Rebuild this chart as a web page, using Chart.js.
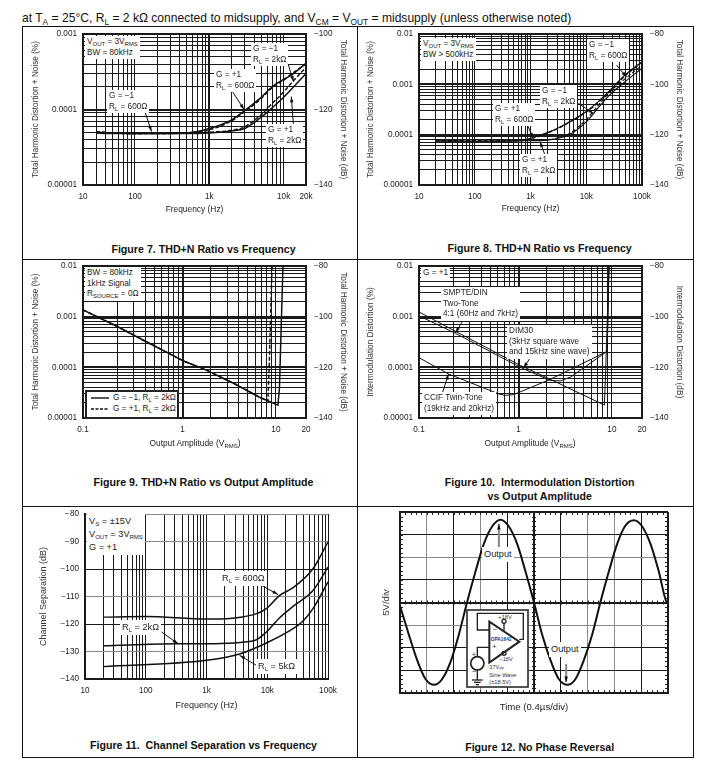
<!DOCTYPE html>
<html>
<head>
<meta charset="utf-8">
<title>OPA1641 typical characteristics</title>
<script src="https://cdn.jsdelivr.net/npm/chart.js@4/dist/chart.umd.min.js"></script>
<style>
    html, body { margin: 0; padding: 0; background: #fff; }
    body { position: relative; width: 714px; height: 770px; overflow: hidden; font-family: "Liberation Sans", Arial, sans-serif; color: #111; }
    canvas { position: absolute; }
    .rule { position: absolute; background: #111; }
    .head { position: absolute; left: 22px; top: 11px; font-size: 12.08px; line-height: 14px; white-space: nowrap; }
    .head sub { font-size: 8.4px; line-height: 0; }
    .cap { position: absolute; font-weight: bold; font-size: 10.65px; line-height: 13.6px; text-align: center; transform: translateX(-50%); white-space: nowrap; }
    .note { position: absolute; background: #fff; font-size: 8.2px; line-height: 10.5px; padding: 1px 2px; white-space: nowrap; color: #222; }
    .note sub { font-size: 6px; line-height: 0; vertical-align: -1.5px; }
    .note.big { font-size: 9.2px; line-height: 13px; }
    .axis-note { position: absolute; font-size: 8.4px; line-height: 10px; white-space: nowrap; color: #222; transform: translateX(-50%); }
    .axis-note sub { font-size: 6px; line-height: 0; vertical-align: -1.5px; }
    .legend { position: absolute; left: 85px; top: 390px; width: 90px; height: 25px; background: #fff; border: 2px solid #222; font-size: 8.2px; color: #222; }
    .legend div { position: absolute; left: 2px; white-space: nowrap; line-height: 10px; }
    .legend sub { font-size: 6px; line-height: 0; vertical-align: -1.5px; }
    .legend svg { vertical-align: middle; margin-right: 3px; }
    #inset { position: absolute; left: 466px; top: 609px; }
</style>
</head>
<body>

<div class="rule" style="left:22px;top:26px;width:672px;height:1px"></div>
<div class="rule" style="left:22px;top:259px;width:672px;height:1px"></div>
<div class="rule" style="left:22px;top:506px;width:672px;height:1px"></div>
<div class="rule" style="left:22px;top:757px;width:672px;height:1px"></div>
<div class="rule" style="left:22px;top:26px;width:1px;height:732px"></div>
<div class="rule" style="left:357px;top:26px;width:1px;height:732px"></div>
<div class="rule" style="left:693px;top:26px;width:1px;height:732px"></div>

<div class="head">at T<sub>A</sub> = 25°C, R<sub>L</sub> = 2 kΩ connected to midsupply, and V<sub>CM</sub> = V<sub>OUT</sub> = midsupply (unless otherwise noted)</div>

<canvas id="fig7" style="left:24px;top:27px" width="332" height="188"></canvas>
<canvas id="fig8" style="left:359px;top:27px" width="333" height="187"></canvas>
<canvas id="fig9" style="left:24px;top:261px" width="332" height="188"></canvas>
<canvas id="fig10" style="left:359px;top:261px" width="333" height="188"></canvas>
<canvas id="fig11" style="left:24px;top:508px" width="332" height="203"></canvas>
<canvas id="fig12" style="left:359px;top:508px" width="333" height="205"></canvas>

<div class="axis-note" style="left:195px;top:438px">Output Amplitude (V<sub>RMS</sub>)</div>
<div class="axis-note" style="left:530px;top:438px">Output Amplitude (V<sub>RMS</sub>)</div>

<div class="legend">
    <div style="top:1px"><svg width="21" height="4"><line x1="2" y1="2" x2="20" y2="2" stroke="#111" stroke-width="1.4"/></svg>G = −1, R<sub>L</sub> = 2kΩ</div>
    <div style="top:12px"><svg width="21" height="4"><line x1="2" y1="2" x2="20" y2="2" stroke="#111" stroke-width="1.4" stroke-dasharray="3 1.5"/></svg>G = +1, R<sub>L</sub> = 2kΩ</div>
</div>

<svg id="inset" width="63" height="79" viewBox="18 27 189 237">
    <rect x="21" y="30" width="183" height="231" fill="#fff" stroke="#333" stroke-width="5"/>
    <g fill="none" stroke="#222" stroke-width="4">
        <polyline points="178,118 190,118 190,40 52,40 52,90 88,90"/>
        <polyline points="88,142 52,142 52,170"/>
        <polygon points="88,65 88,188 178,125" stroke-width="6" fill="#fff"/>
        <circle cx="52" cy="190" r="20" stroke-width="5"/>
        <polyline points="52,210 52,240"/>
        <line x1="36" y1="240" x2="68" y2="240"/>
        <line x1="42" y1="247" x2="62" y2="247"/>
        <line x1="47" y1="254" x2="57" y2="254"/>
        <line x1="132" y1="92" x2="132" y2="70"/>
        <circle cx="132" cy="64" r="6"/>
        <circle cx="132" cy="160" r="6"/>
    </g>
    <g font-family="Liberation Sans, Arial, sans-serif" font-size="17" fill="#333">
        <text x="115" y="56">+18V</text>
        <text x="118" y="184">−18V</text>
        <text x="98" y="96" font-size="22">−</text>
        <text x="97" y="148" font-size="22">+</text>
        <text x="36" y="170" font-size="20">+</text>
        <text x="36" y="222" font-size="22">−</text>
        <text x="88" y="207">37V<tspan font-size="11" dy="3">PP</tspan></text>
        <text x="88" y="230">Sine Wave</text>
        <text x="88" y="252">(±18.5V)</text>
        <text x="92" y="122" font-size="14.5" font-weight="bold" fill="#1d3c78">OPA1641</text>
    </g>
</svg>

<script>
// --- DATA ---
// Figure 7: THD+N vs frequency, BW = 80kHz
const fig7Freq = [30, 50, 100, 200, 500, 1000, 2000, 3000, 5000, 7000, 10000, 13000, 20000];
const fig7Plus600 = [5.0e-5, 4.9e-5, 4.8e-5, 4.8e-5, 4.9e-5, 5.6e-5, 7.3e-5, 9.7e-5, 1.45e-4, 2.0e-4, 2.5e-4, 2.9e-4, 4.1e-4];
const fig7Minus600 = [5.1e-5, 4.9e-5, 4.8e-5, 4.9e-5, 4.9e-5, 5.4e-5, 7.1e-5, 9.4e-5, 1.4e-4, 1.95e-4, 2.45e-4, 3.0e-4, 4.0e-4];
const fig7Plus2k = [4.9e-5, 4.8e-5, 4.8e-5, 4.8e-5, 4.8e-5, 4.9e-5, 5.2e-5, 5.6e-5, 7.9e-5, 1.05e-4, 1.45e-4, 1.9e-4, 3.0e-4];
const fig7Minus2k = [5.0e-5, 4.9e-5, 4.8e-5, 4.8e-5, 4.9e-5, 5.0e-5, 5.3e-5, 5.9e-5, 8.6e-5, 1.2e-4, 1.7e-4, 2.3e-4, 3.6e-4];

// Figure 8: THD+N vs frequency, BW > 500kHz
const fig8Freq = [20, 100, 500, 1000, 2000, 3000, 5000, 10000, 17000, 27000, 46000, 100000];
const fig8Plus600 = [7.5e-5, 7.4e-5, 7.5e-5, 8.5e-5, 1.1e-4, 1.33e-4, 1.8e-4, 2.9e-4, 4.7e-4, 7.7e-4, 1.42e-3, 2.82e-3];
const fig8Minus600 = [7.6e-5, 7.5e-5, 7.6e-5, 8.3e-5, 1.07e-4, 1.3e-4, 1.75e-4, 2.8e-4, 4.5e-4, 7.4e-4, 1.35e-3, 2.75e-3];
const fig8Plus2k = [7.5e-5, 7.4e-5, 7.5e-5, 7.6e-5, 7.8e-5, 8.4e-5, 1.0e-4, 1.8e-4, 3.6e-4, 6.3e-4, 1.05e-3, 2.1e-3];
const fig8Minus2k = [7.6e-5, 7.5e-5, 7.6e-5, 7.7e-5, 7.9e-5, 8.6e-5, 1.05e-4, 2.0e-4, 4.0e-4, 7.2e-4, 1.2e-3, 2.4e-3];

// Figure 9: THD+N vs output amplitude
const fig9SolidAmp = [0.086, 0.2, 0.41, 1.03, 1.8, 3.56, 6.6, 10.5, 10.9, 11.9];
const fig9SolidThd = [1.36e-3, 6.4e-4, 3.2e-4, 1.33e-4, 8.8e-5, 4.8e-5, 2.6e-5, 1.8e-5, 3.75e-5, 1e-2];
const fig9DashAmp = [0.086, 0.2, 0.41, 1.03, 1.8, 3.56, 6.6, 8.2, 8.5, 9.1];
const fig9DashThd = [1.36e-3, 6.4e-4, 3.2e-4, 1.33e-4, 8.8e-5, 4.8e-5, 2.6e-5, 2.2e-5, 1.26e-4, 1e-2];

// Figure 10: intermodulation distortion vs output amplitude
const fig10SmpteAmp = [0.086, 0.211, 1.05, 2.19, 8.3, 8.6, 9.3];
const fig10SmpteImd = [1.24e-3, 5.15e-4, 1.09e-4, 5.8e-5, 1.8e-5, 1.0e-4, 1e-2];
const fig10DimAmp = [0.086, 0.211, 1.05, 2.19, 2.8, 3.6, 8.9, 9.3];
const fig10DimImd = [1.04e-3, 4.7e-4, 9.97e-5, 5.5e-5, 5.4e-5, 6.4e-5, 2.07e-4, 1e-2];
const fig10CcifAmp = [0.086, 0.178, 0.61, 0.72, 0.89, 2.19, 8.9, 9.3];
const fig10CcifImd = [1.55e-4, 7.4e-5, 3.0e-5, 2.8e-5, 2.9e-5, 5.8e-5, 2.07e-4, 1e-2];

// Figure 11: channel separation vs frequency
const fig11Freq600 = [20, 100, 1000, 6000, 9700, 16000, 26600, 56600, 100000];
const fig11Db600 = [-117.5, -117.3, -118.2, -116.6, -114.4, -109.6, -106.8, -99.9, -90.2];
const fig11Freq2k = [20, 321, 1000, 6000, 9700, 16000, 26600, 56600, 100000];
const fig11Db2k = [-127.9, -127.2, -127.2, -126.1, -122.9, -117.7, -113.6, -107.8, -99.3];
const fig11Freq5k = [20, 1000, 3500, 9700, 26600, 38800, 56600, 100000];
const fig11Db5k = [-135.5, -133.2, -130.9, -126.9, -121.7, -118.9, -114.4, -104.7];

// Figure 12: output waveform
const fig12Time = [0, 0.13, 0.26, 0.38, 0.51, 0.63, 0.76, 0.88, 1.0, 1.13, 1.25, 1.38, 1.5, 1.62, 1.75, 1.87, 2.0, 2.12, 2.25, 2.37, 2.5, 2.62, 2.74, 2.87, 2.99, 3.12, 3.24, 3.36, 3.49, 3.61, 3.74, 3.86, 3.98, 4.0];
const fig12Volts = [-0.7, -7, -12.9, -16.9, -18.2, -16.9, -12.9, -7, 0, 7, 12.9, 16.9, 18.3, 16.9, 12.9, 7, 0, -7, -12.9, -16.9, -18.2, -16.9, -12.9, -7, 0, 7, 12.9, 16.9, 18.2, 16.9, 12.9, 7, 0, -0.2];

// Grid lines and tick labels
const freqGrid20k = [20, 30, 40, 50, 60, 70, 80, 90, 100, 200, 300, 400, 500, 600, 700, 800, 900, 1000, 2000, 3000, 4000, 5000, 6000, 7000, 8000, 9000, 10000, 20000];
const freqGrid100k = [10, 20, 30, 40, 50, 60, 70, 80, 90, 100, 200, 300, 400, 500, 600, 700, 800, 900, 1000, 2000, 3000, 4000, 5000, 6000, 7000, 8000, 9000, 10000, 20000, 30000, 40000, 50000, 60000, 70000, 80000, 90000, 100000];
const ampGrid = [0.086, 0.2, 0.3, 0.4, 0.5, 0.6, 0.7, 0.8, 0.9, 1, 2, 3, 4, 5, 6, 7, 8, 9, 10, 21];
const pctGrid = [1e-5, 2e-5, 3e-5, 4e-5, 5e-5, 6e-5, 7e-5, 8e-5, 9e-5, 1e-4, 2e-4, 3e-4, 4e-4, 5e-4, 6e-4, 7e-4, 8e-4, 9e-4, 1e-3, 2e-3, 3e-3, 4e-3, 5e-3, 6e-3, 7e-3, 8e-3, 9e-3, 1e-2];
const dbTicks = [-140, -130, -120, -110, -100, -90, -80];
const timeGrid = [0, 0.4, 0.8, 1.2, 1.6, 2.0, 2.4, 2.8, 3.2, 3.6, 4.0];
const voltGrid = [-20, -15, -10, -5, 0, 5, 10, 15, 20];

const freqLabels20k = new Map([[20, '10'], [100, '100'], [1000, '1k'], [10000, '10k'], [20000, '20k']]);
const freqLabels100k = new Map([[10, '10'], [100, '100'], [1000, '1k'], [10000, '10k'], [100000, '100k']]);
const ampLabels = new Map([[0.086, '0.1'], [1, '1'], [10, '10'], [21, '20']]);
const pctLabels = new Map([[1e-5, '0.00001'], [1e-4, '0.0001'], [1e-3, '0.001'], [1e-2, '0.01']]);
const dbLabels = new Map([[-140, '−140'], [-120, '−120'], [-100, '−100'], [-80, '−80']]);
const dbLabelsAll = new Map(dbTicks.map(v => [v, '−' + Math.abs(v)]));

// Callout arrows, from label to curve, in axis values
const fig7Callouts = [
    { from: [11500, 4.0e-4], to: [13600, 2.34e-4] },
    { from: [1990, 1.81e-4], to: [2940, 1.0e-4] },
    { from: [136, 9.4e-5], to: [167, 5.1e-5] },
    { from: [13600, 5.9e-5], to: [12700, 1.48e-4] }
];
const fig8Callouts = [
    { from: [35000, 2.4e-3], to: [53000, 1.38e-3] },
    { from: [7200, 4.2e-4], to: [13800, 2.6e-4] },
    { from: [853, 1.68e-4], to: [1120, 8.45e-5] },
    { from: [1820, 3.9e-5], to: [1480, 7.3e-5] }
];
const fig10Callouts = [
    { from: [0.249, 7.9e-4], to: [0.211, 4.8e-4] },
    { from: [1.39, 1.72e-4], to: [1.13, 9.7e-5] },
    { from: [0.152, 3.0e-5], to: [0.178, 7.4e-5] }
];
const fig11Callouts = [
    { from: [8000, -105.9], to: [15100, -109.3] },
    { from: [182, -122.9], to: [342, -127.2] },
    { from: [6600, -135], to: [3500, -131.4] }
];
const fig12Callouts = [
    { from: [1.476, 11.5], to: [1.476, 17.4], stem: '#888', stemWidth: 2 },
    { from: [2.48, -13.6], to: [2.48, -17.6], stem: '#888', stemWidth: 2 }
];

// Text boxes over the plots: left, top, html
const R = (ohms) => `R<sub>L</sub> = ${ohms}`;
const notes = [
    [85, 36, `V<sub>OUT</sub> = 3V<sub>RMS</sub><br>BW = 80kHz`],
    [251, 43, `G = −1<br>${R('2kΩ')}`],
    [214, 69, `G = +1<br>${R('600Ω')}`],
    [107, 90, `G = −1<br>${R('600Ω')}`],
    [266, 124, `G = +1<br>${R('2kΩ')}`],
    [421, 38, `V<sub>OUT</sub> = 3V<sub>RMS</sub><br>BW &gt; 500kHz`],
    [587, 39, `G = −1<br>${R('600Ω')}`],
    [540, 85, `G = −1<br>${R('2kΩ')}`],
    [493, 103, `G = +1<br>${R('600Ω')}`],
    [520, 154, `G = +1<br>${R('2kΩ')}`],
    [85, 267, `BW = 80kHz<br>1kHz Signal<br>R<sub>SOURCE</sub> = 0Ω`],
    [421, 267, `G = +1`],
    [441, 287, `SMPTE/DIN<br>Two-Tone<br>4:1 (60Hz and 7kHz)`],
    [507, 325, `DIM30<br>(3kHz square wave<br>and 15kHz sine wave)`],
    [422, 392, `CCIF Twin-Tone<br>(19kHz and 20kHz)`]
];
const bigNotes = [
    [87, 514, `V<sub>S</sub> = ±15V<br>V<sub>OUT</sub> = 3V<sub>RMS</sub><br>G = +1`],
    [220, 571, R('600Ω')],
    [120, 620, R('2kΩ')],
    [256, 659, R('5kΩ')],
    [482, 547, 'Output'],
    [549, 642, 'Output']
];
const captions = [
    [203.5, 243, 'Figure 7. THD+N Ratio vs Frequency'],
    [539.7, 242, 'Figure 8. THD+N Ratio vs Frequency'],
    [203.5, 476, 'Figure 9. THD+N Ratio vs Output Amplitude'],
    [539.7, 476, 'Figure 10.&nbsp; Intermodulation Distortion<br>vs Output Amplitude'],
    [203.5, 739, 'Figure 11.&nbsp; Channel Separation vs Frequency'],
    [539.7, 741, 'Figure 12. No Phase Reversal']
];

// --- TEXT OVERLAYS ---
notes.forEach(([left, top, html]) => addDiv('note', left, top, html));
bigNotes.forEach(([left, top, html]) => addDiv('note big', left, top, html));
captions.forEach(([left, top, html]) => addDiv('cap', left, top, html));

function addDiv(cls, left, top, html) {
    const el = document.createElement('div');
    el.className = cls;
    el.style.left = left + 'px';
    el.style.top = top + 'px';
    el.innerHTML = html;
    document.body.appendChild(el);
}

// --- CHARTS ---
const FONT = '"Liberation Sans", Arial, sans-serif';
Chart.defaults.font.family = FONT;
Chart.defaults.animation = false;
Chart.defaults.responsive = false;

// Arrows from the labels down to the curves
const calloutPlugin = {
    id: 'callouts',
    afterDatasetsDraw(chart, args, opts) {
        const ctx = chart.ctx;
        (opts.items || []).forEach(c => {
            const x0 = chart.scales.x.getPixelForValue(c.from[0]);
            const y0 = chart.scales.y.getPixelForValue(c.from[1]);
            const x1 = chart.scales.x.getPixelForValue(c.to[0]);
            const y1 = chart.scales.y.getPixelForValue(c.to[1]);
            const a = Math.atan2(y1 - y0, x1 - x0);
            ctx.save();
            ctx.strokeStyle = c.stem || '#111';
            ctx.lineWidth = c.stemWidth || 1;
            ctx.beginPath();
            ctx.moveTo(x0, y0);
            ctx.lineTo(x1, y1);
            ctx.stroke();
            ctx.fillStyle = '#111';
            ctx.beginPath();
            ctx.moveTo(x1, y1);
            ctx.lineTo(x1 - 6 * Math.cos(a - 0.3), y1 - 6 * Math.sin(a - 0.3));
            ctx.lineTo(x1 - 6 * Math.cos(a + 0.3), y1 - 6 * Math.sin(a + 0.3));
            ctx.closePath();
            ctx.fill();
            ctx.restore();
        });
    }
};

// Scope graticule ticks on the borders and centre lines
const graticulePlugin = {
    id: 'graticule',
    beforeDatasetsDraw(chart, args, opts) {
        if (!opts.enabled) return;
        const { ctx, chartArea: area, scales } = chart;
        const midX = scales.x.getPixelForValue(2);
        const midY = scales.y.getPixelForValue(0);
        ctx.save();
        ctx.strokeStyle = '#222';
        ctx.lineWidth = 1;
        ctx.beginPath();
        for (let t = 0; t <= 50; t++) {
            const x = Math.round(scales.x.getPixelForValue(t * 0.08)) + 0.5;
            ctx.moveTo(x, area.top); ctx.lineTo(x, area.top + 3);
            ctx.moveTo(x, area.bottom); ctx.lineTo(x, area.bottom - 3);
            ctx.moveTo(x, midY - 2); ctx.lineTo(x, midY + 2);
        }
        for (let v = -20; v <= 20; v++) {
            const y = Math.round(scales.y.getPixelForValue(v)) + 0.5;
            ctx.moveTo(area.left, y); ctx.lineTo(area.left + 3, y);
            ctx.moveTo(area.right, y); ctx.lineTo(area.right - 3, y);
            ctx.moveTo(midX - 2, y); ctx.lineTo(midX + 2, y);
        }
        ctx.stroke();
        ctx.restore();
    }
};

function curve(xs, ys, dashed, smooth, width) {
    return {
        data: xs.map((x, i) => ({ x: x, y: ys[i] })),
        borderColor: '#111',
        borderWidth: width || 1.5,
        borderDash: dashed ? [4, 2] : [],
        pointRadius: 0,
        cubicInterpolationMode: smooth ? 'monotone' : 'default',
        tension: 0
    };
}

// One grid scale: our own tick list, scriptable heavy/light lines, fixed box size
function gridAxis(type, range, grid, labels, heavy, grey, pad) {
    return {
        type: type,
        min: range[0],
        max: range[1],
        afterBuildTicks: s => { s.ticks = grid.map(v => ({ value: v })); },
        ticks: {
            autoSkip: false,
            maxRotation: 0,
            padding: pad,
            color: '#222',
            font: { size: 8.2 },
            callback: v => labels.get(v) || ''
        },
        grid: {
            drawTicks: false,
            color: c => (c.tick && grey.includes(c.tick.value)) ? '#8a8a8a' : '#1a1a1a',
            lineWidth: c => (c.tick && heavy.includes(c.tick.value)) ? 2 : 1
        },
        border: { display: true, color: '#1a1a1a', width: 2 }
    };
}

function sideTitle(text, pad, size) {
    return { display: true, text: text, color: '#333', font: { size: size || 8.2 }, padding: { top: pad, bottom: pad } };
}

function panel(id, p) {
    const x = gridAxis(p.xType || 'logarithmic', p.xRange, p.xGrid, p.xLabels, p.xHeavy, p.xGrey || [], 7);
    // label overflow must not move the plot area, it is placed by hand
    x.afterFit = s => { s.height = p.xHeight; s.paddingLeft = 0; s.paddingRight = 0; };
    if (p.xTitle) {
        x.title = { display: true, text: p.xTitle, color: '#222', font: { size: p.xTitleSize || 8.4 }, padding: { top: 0, bottom: 0 } };
    }
    const y = gridAxis(p.yType || 'logarithmic', p.yRange, p.yGrid, p.yLabels, p.yHeavy, p.yGrey || [], 6);
    y.afterFit = s => { s.width = p.leftWidth; s.paddingTop = 0; s.paddingBottom = 0; };
    y.title = p.yTitle;
    const scales = { x: x, y: y };
    if (p.rightTitle) {
        scales.y2 = {
            type: 'linear',
            position: 'right',
            min: p.dbRange[0],
            max: p.dbRange[1],
            afterBuildTicks: s => { s.ticks = p.dbGrid.map(v => ({ value: v })); },
            afterFit: s => { s.width = p.rightWidth; s.paddingTop = 0; s.paddingBottom = 0; },
            ticks: { autoSkip: false, padding: 8, color: '#222', font: { size: 8.2 }, callback: v => dbLabels.get(v) || '' },
            grid: { display: false, drawTicks: false },
            border: { display: true, color: '#1a1a1a', width: 2 },
            title: p.rightTitle
        };
    }
    if (p.hideTicks) {
        x.ticks.display = false;
        y.ticks.display = false;
    }
    return new Chart(document.getElementById(id), {
        type: 'line',
        data: { datasets: p.datasets },
        options: {
            layout: { padding: { top: p.topPad, right: p.rightPad || 0, left: 0, bottom: 0 } },
            scales: scales,
            plugins: {
                legend: { display: false },
                tooltip: { enabled: false },
                callouts: { items: p.callouts || [] },
                graticule: { enabled: !!p.hideTicks }
            }
        },
        plugins: [calloutPlugin, graticulePlugin]
    });
}

const pct2Decades = pctGrid.slice(0, 19);
const decadeLines = [1e-5, 1e-4, 1e-3, 1e-2];
const thdTitle = 'Total Harmonic Distortion + Noise (%)';
const thdDbTitle = 'Total Harmonic Distortion + Noise (dB)';

panel('fig7', {
    xRange: [20, 20000], xGrid: freqGrid20k, xLabels: freqLabels20k, xHeavy: [1000], xHeight: 30, xTitle: 'Frequency (Hz)',
    yRange: [1e-5, 1e-3], yGrid: pct2Decades, yLabels: pctLabels, yHeavy: decadeLines, leftWidth: 59, yTitle: sideTitle(thdTitle, 7),
    dbRange: [-140, -100], dbGrid: [-140, -120, -100], rightWidth: 50, rightTitle: sideTitle(thdDbTitle, 8),
    topPad: 7, callouts: fig7Callouts,
    datasets: [
        curve(fig7Freq, fig7Plus600, false, true),
        curve(fig7Freq, fig7Minus600, true, true),
        curve(fig7Freq, fig7Plus2k, false, true),
        curve(fig7Freq, fig7Minus2k, true, true)
    ]
});

panel('fig8', {
    xRange: [10, 100000], xGrid: freqGrid100k, xLabels: freqLabels100k, xHeavy: [], xHeight: 29, xTitle: 'Frequency (Hz)',
    yRange: [1e-5, 1e-2], yGrid: pctGrid, yLabels: pctLabels, yHeavy: decadeLines, leftWidth: 60, yTitle: sideTitle(thdTitle, 7),
    dbRange: [-140, -80], dbGrid: [-140, -120, -100, -80], rightWidth: 50, rightTitle: sideTitle(thdDbTitle, 7.5),
    topPad: 7, callouts: fig8Callouts,
    datasets: [
        curve(fig8Freq, fig8Plus600, false, true, 1.2),
        curve(fig8Freq, fig8Minus600, true, true, 1.2),
        curve(fig8Freq, fig8Plus2k, false, true, 1.2),
        curve(fig8Freq, fig8Minus2k, true, true, 1.2)
    ]
});

panel('fig9', {
    xRange: [0.086, 21], xGrid: ampGrid, xLabels: ampLabels, xHeavy: [1], xHeight: 31,
    yRange: [1e-5, 1e-2], yGrid: pctGrid, yLabels: pctLabels, yHeavy: decadeLines, leftWidth: 59, yTitle: sideTitle(thdTitle, 7),
    dbRange: [-140, -80], dbGrid: [-140, -120, -100, -80], rightWidth: 50, rightTitle: sideTitle(thdDbTitle, 8),
    topPad: 5,
    datasets: [
        curve(fig9SolidAmp, fig9SolidThd, false, false),
        curve(fig9DashAmp, fig9DashThd, true, false)
    ]
});

panel('fig10', {
    xRange: [0.086, 21], xGrid: ampGrid, xLabels: ampLabels, xHeavy: [1], xHeight: 31,
    yRange: [1e-5, 1e-2], yGrid: pctGrid, yLabels: pctLabels, yHeavy: decadeLines, leftWidth: 60,
    yTitle: sideTitle('Intermodulation Distortion (%)', 7, 8.3),
    dbRange: [-140, -80], dbGrid: [-140, -120, -100, -80], rightWidth: 50,
    rightTitle: sideTitle('Intermodulation Distortion (dB)', 8, 8.3),
    topPad: 5, callouts: fig10Callouts,
    datasets: [
        curve(fig10SmpteAmp, fig10SmpteImd, false, false, 1),
        curve(fig10DimAmp, fig10DimImd, false, false, 1),
        curve(fig10CcifAmp, fig10CcifImd, false, false, 1)
    ]
});

panel('fig11', {
    xRange: [10, 100000], xGrid: freqGrid100k, xLabels: freqLabels100k, xHeavy: [], xHeight: 32, xTitle: 'Frequency (Hz)', xTitleSize: 9,
    yType: 'linear', yRange: [-140, -80], yGrid: dbTicks, yLabels: dbLabelsAll, yHeavy: [], yGrey: [-80, -90, -110, -130], leftWidth: 61,
    yTitle: { display: true, text: 'Channel Separation (dB)', color: '#333', font: { size: 9 }, padding: { top: 14, bottom: 14 } },
    rightPad: 28, topPad: 6, callouts: fig11Callouts,
    datasets: [
        curve(fig11Freq600, fig11Db600, false, true),
        curve(fig11Freq2k, fig11Db2k, false, true),
        curve(fig11Freq5k, fig11Db5k, false, true)
    ]
});

panel('fig12', {
    xType: 'linear', xRange: [0, 4], xGrid: timeGrid, xLabels: new Map(), xHeavy: [0, 2, 4], xGrey: [0.4, 1.2, 2.8, 3.2],
    xHeight: 20, xTitle: 'Time (0.4µs/div)', xTitleSize: 9.6,
    yType: 'linear', yRange: [-20, 20], yGrid: voltGrid, yLabels: new Map(), yHeavy: [-20, 0, 20], yGrey: [10, -5], leftWidth: 41,
    yTitle: { display: true, text: '5V/div', color: '#333', font: { size: 9.6 }, padding: { top: 22, bottom: 22 } },
    rightPad: 24, topPad: 4, callouts: fig12Callouts, hideTicks: true,
    datasets: [Object.assign(curve(fig12Time, fig12Volts, false, true), { borderWidth: 2 })]
});
</script>
</body>
</html>
